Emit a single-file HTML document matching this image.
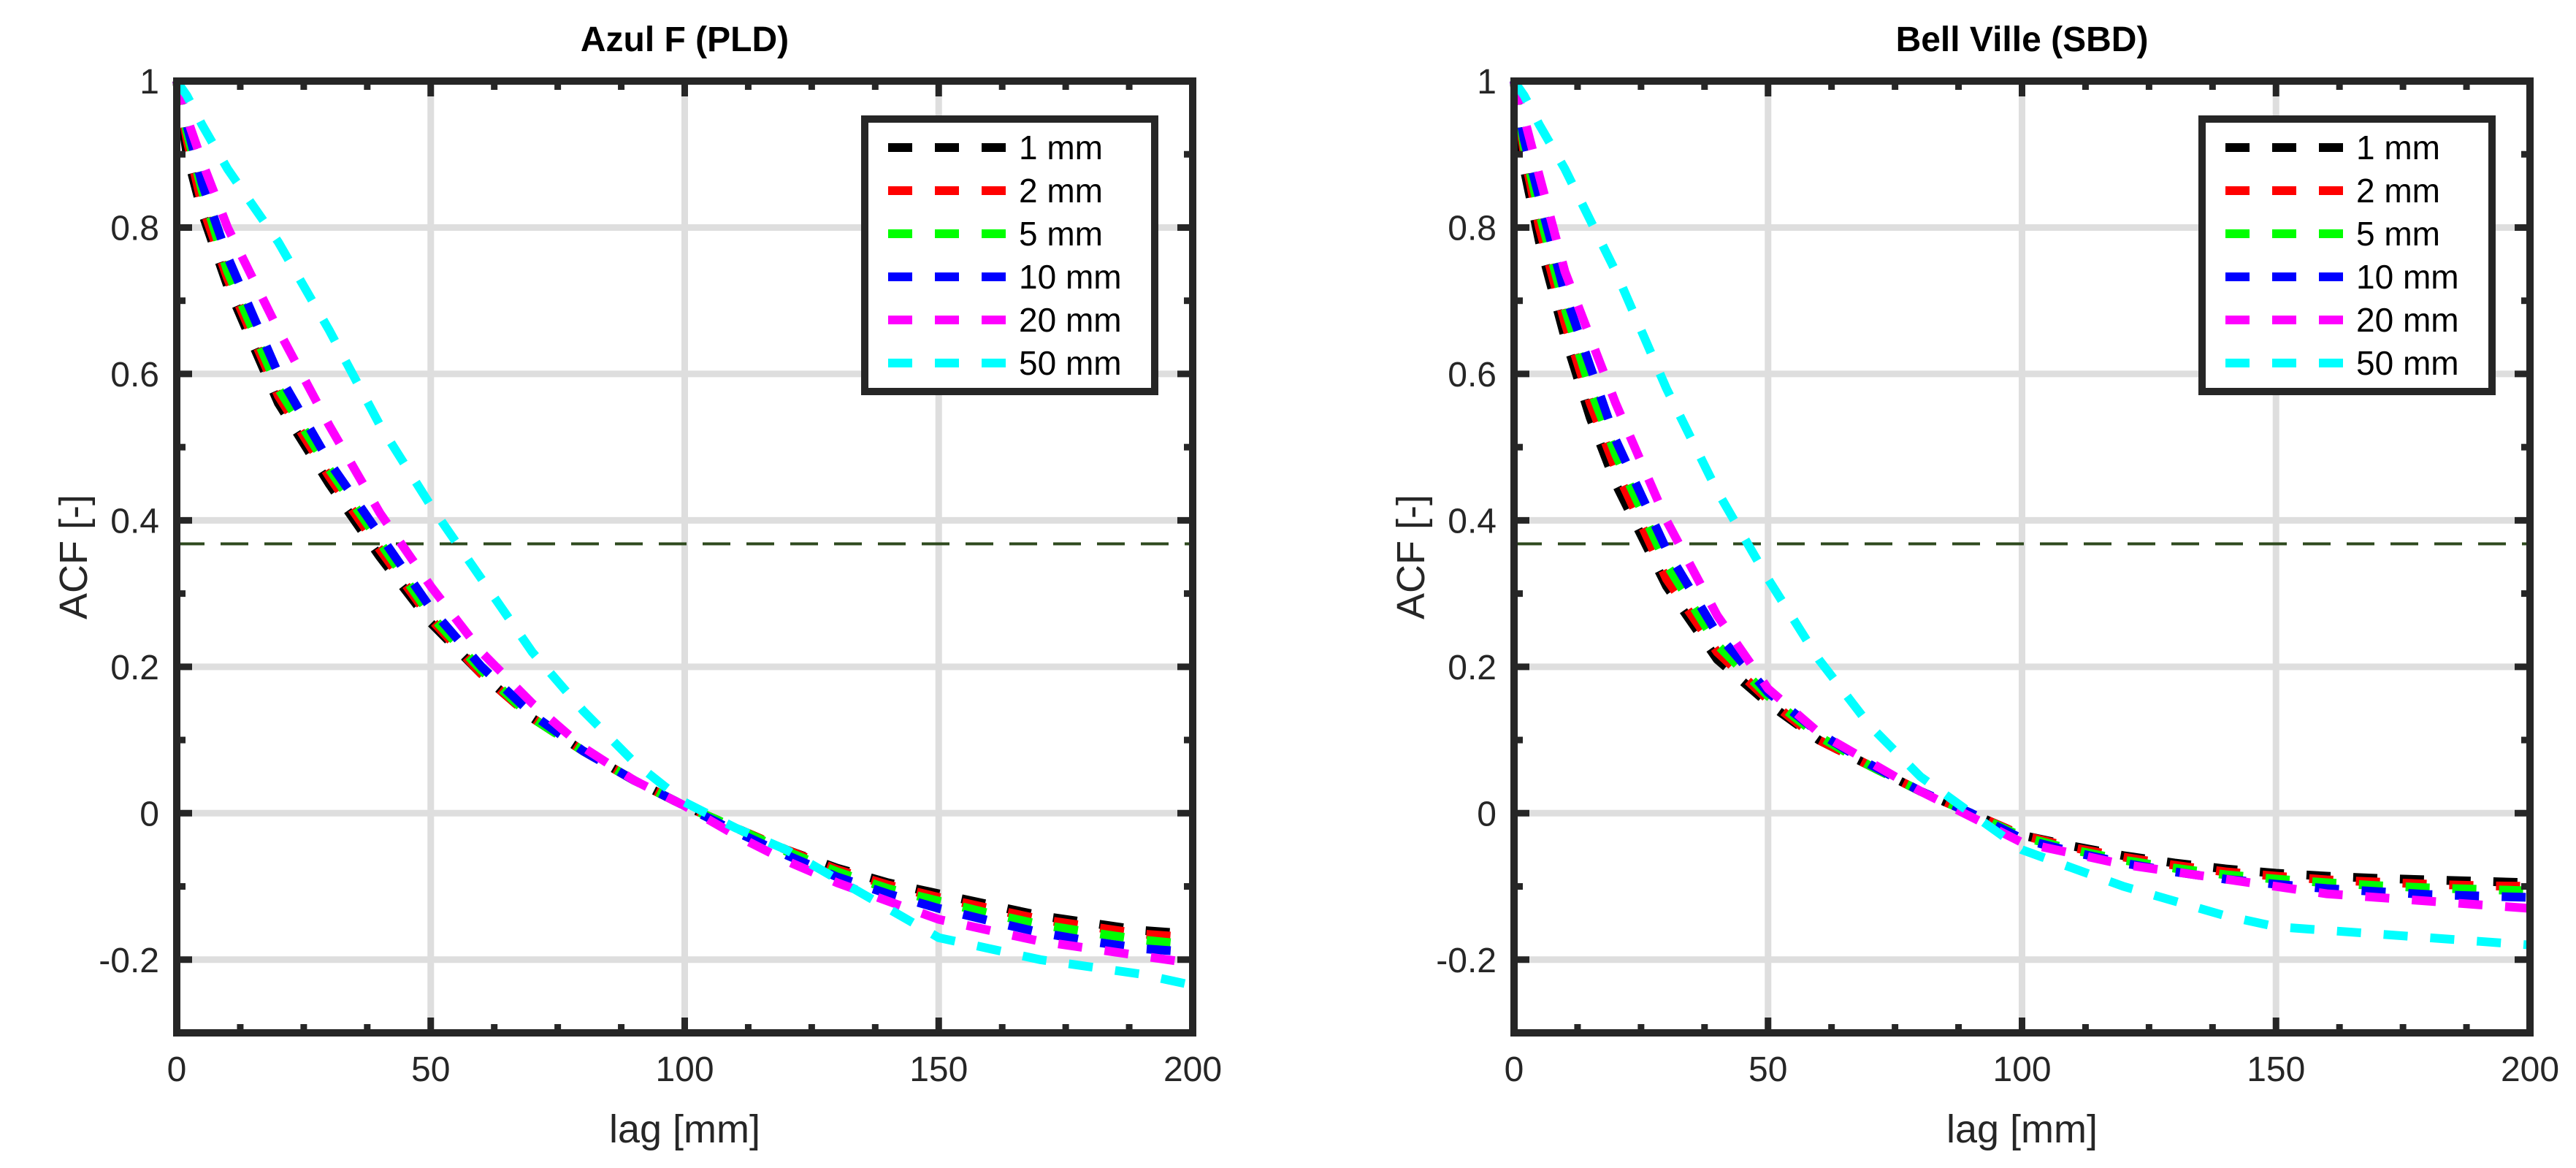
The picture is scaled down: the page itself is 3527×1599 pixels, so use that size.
<!DOCTYPE html>
<html><head><meta charset="utf-8"><style>
html,body{margin:0;padding:0;background:#fff;}
svg{display:block;font-family:"Liberation Sans",sans-serif;}
</style></head><body>
<svg id="fig" width="3527" height="1599" viewBox="0 0 3527 1599" xmlns="http://www.w3.org/2000/svg"></svg>
<script>
const lags = [0,2,5,10,15,20,30,40,50,60,70,80,90,100,110,120,130,140,150,160,170,180,190,200];
const seriesNames = ["1 mm","2 mm","5 mm","10 mm","20 mm","50 mm"];
const seriesColors = ["#000000","#ff0000","#00ff00","#0000ff","#ff00ff","#00ffff"];
const xTicks = [0,50,100,150,200];
const yTicks = [-0.2,0,0.2,0.4,0.6,0.8,1];
const yTickLabels = ["-0.2","0","0.2","0.4","0.6","0.8","1"];
const thresholdValue = 0.3679;
// Azul F (PLD)
const azul1 = [1,0.9,0.82,0.72,0.64,0.56,0.45,0.35,0.26,0.19,0.13,0.085,0.045,0.01,-0.02,-0.05,-0.075,-0.095,-0.11,-0.125,-0.14,-0.15,-0.16,-0.165];
const azul2 = [1,0.92,0.83,0.73,0.65,0.57,0.46,0.36,0.265,0.19,0.13,0.085,0.045,0.01,-0.02,-0.05,-0.077,-0.098,-0.115,-0.13,-0.145,-0.155,-0.165,-0.17];
const azul5 = [1,0.93,0.85,0.74,0.66,0.58,0.47,0.37,0.27,0.195,0.13,0.085,0.045,0.01,-0.02,-0.052,-0.08,-0.103,-0.12,-0.137,-0.152,-0.163,-0.173,-0.18];
const azul10 = [1,0.94,0.86,0.76,0.68,0.6,0.48,0.38,0.28,0.2,0.135,0.085,0.045,0.01,-0.025,-0.057,-0.087,-0.11,-0.13,-0.147,-0.163,-0.175,-0.185,-0.19];
const azul20 = [1,0.95,0.89,0.8,0.73,0.66,0.53,0.41,0.31,0.22,0.15,0.09,0.045,0.01,-0.03,-0.065,-0.095,-0.12,-0.145,-0.16,-0.175,-0.185,-0.195,-0.205];
const azul50 = [1,0.98,0.94,0.88,0.83,0.78,0.66,0.53,0.42,0.32,0.22,0.14,0.07,0.015,-0.02,-0.05,-0.09,-0.13,-0.17,-0.185,-0.2,-0.21,-0.22,-0.235];
// Bell Ville (SBD)
const bell1 = [1,0.88,0.78,0.65,0.54,0.45,0.31,0.21,0.15,0.1,0.065,0.03,0.0,-0.03,-0.045,-0.058,-0.068,-0.076,-0.082,-0.086,-0.089,-0.091,-0.093,-0.095];
const bell2 = [1,0.9,0.8,0.67,0.56,0.47,0.32,0.22,0.155,0.1,0.065,0.03,0.0,-0.03,-0.047,-0.06,-0.071,-0.08,-0.086,-0.091,-0.094,-0.097,-0.099,-0.1];
const bell5 = [1,0.91,0.82,0.69,0.58,0.49,0.34,0.23,0.16,0.105,0.065,0.03,0.0,-0.032,-0.05,-0.064,-0.075,-0.084,-0.09,-0.095,-0.099,-0.102,-0.104,-0.106];
const bell10 = [1,0.92,0.84,0.71,0.61,0.51,0.36,0.245,0.165,0.11,0.067,0.03,0.0,-0.035,-0.053,-0.068,-0.08,-0.09,-0.097,-0.103,-0.107,-0.111,-0.113,-0.115];
const bell20 = [1,0.95,0.87,0.74,0.65,0.56,0.4,0.27,0.17,0.11,0.07,0.03,-0.005,-0.04,-0.055,-0.07,-0.08,-0.09,-0.1,-0.11,-0.115,-0.12,-0.125,-0.13];
const bell50 = [1,0.98,0.94,0.88,0.81,0.74,0.58,0.44,0.32,0.21,0.12,0.05,0.0,-0.05,-0.075,-0.1,-0.12,-0.14,-0.155,-0.16,-0.165,-0.17,-0.175,-0.18];

const NS = "http://www.w3.org/2000/svg";
const svg = document.getElementById("fig");
function mk(tag, parent, attrs){ const e=document.createElementNS(NS,tag); for(const k in attrs) e.setAttribute(k,attrs[k]); parent.appendChild(e); return e; }

const panels = [
  {title:"Azul F (PLD)", left:242, data:[azul1,azul2,azul5,azul10,azul20,azul50], key:"azul"},
  {title:"Bell Ville (SBD)", left:2073, data:[bell1,bell2,bell5,bell10,bell20,bell50], key:"bell"}
];
const W = 1391, TOP = 111, BOT = 1414, YMIN=-0.3, YMAX=1, XMAX=200;
const dark = "#262626";

panels.forEach(p => {
  const g = mk("g", svg, {});
  
  
  const X = v => p.left + v / XMAX * W;
  const Y = v => BOT - (v - YMIN) / (YMAX - YMIN) * (BOT - TOP);
  xTicks.forEach(t => { const l = mk("line", g, {x1:X(t),x2:X(t),y1:TOP,y2:BOT,stroke:"#dedede","stroke-width":9});
      });
  yTicks.forEach(t => { const l = mk("line", g, {x1:p.left,x2:p.left+W,y1:Y(t),y2:Y(t),stroke:"#dedede","stroke-width":9});
      });
  const th = mk("line", g, {x1:p.left,x2:p.left+W,y1:Y(thresholdValue),y2:Y(thresholdValue),stroke:"#2e4a1e","stroke-width":4,"stroke-dasharray":"38 22"});
   
  p.data.forEach((arr, i) => {
    const pts = arr.map((v, j) => X(lags[j]).toFixed(1) + "," + Y(v).toFixed(1)).join(" ");
    const pl = mk("polyline", g, {points:pts, fill:"none", stroke:seriesColors[i], "stroke-width":12, "stroke-dasharray":"33 31"});
    
    
  });
  for (let t = 0; t <= XMAX + 0.01; t += 12.5) {
    const len = (t % 50 === 0) ? 21 : 12;
    mk("line", g, {x1:X(t),x2:X(t),y1:BOT,y2:BOT-len,stroke:dark,"stroke-width":9});
    mk("line", g, {x1:X(t),x2:X(t),y1:TOP,y2:TOP+len,stroke:dark,"stroke-width":9});
  }
  for (let k = -3; k <= 10; k++) {
    const t = k / 10; const len = (k % 2 === 0) ? 21 : 12;
    mk("line", g, {x1:p.left,x2:p.left+len,y1:Y(t),y2:Y(t),stroke:dark,"stroke-width":9});
    mk("line", g, {x1:p.left+W,x2:p.left+W-len,y1:Y(t),y2:Y(t),stroke:dark,"stroke-width":9});
  }
  const box = mk("rect", g, {x:p.left,y:TOP,width:W,height:BOT-TOP,fill:"none",stroke:dark,"stroke-width":10});
   
  xTicks.forEach(t => { const tx = mk("text", g, {x:X(t),y:1480,"text-anchor":"middle","font-size":48,fill:dark}); tx.textContent = t;
      });
  yTicks.forEach((t, i) => { const tx = mk("text", g, {x:p.left-24,y:Y(t)+17,"text-anchor":"end","font-size":48,fill:dark}); tx.textContent = yTickLabels[i];
      });
  const xl = mk("text", g, {x:p.left+W/2,y:1564,"text-anchor":"middle","font-size":54,fill:dark}); xl.textContent = "lag [mm]";
   
  const yl = mk("text", g, {x:0,y:0,"text-anchor":"middle","font-size":54,fill:dark,transform:`translate(${p.left-123},${(TOP+BOT)/2}) rotate(-90)`}); yl.textContent = "ACF [-]";
   
  const tt = mk("text", g, {x:p.left+W/2,y:70,"text-anchor":"middle","font-size":48,"font-weight":"bold",fill:"#000"}); tt.textContent = p.title;
   
  const lg = mk("g", g, {});
   
  const lx = p.left + 942;
  mk("rect", lg, {x:lx,y:163,width:397,height:373,fill:"#fff",stroke:dark,"stroke-width":10});
  seriesNames.forEach((n, i) => {
    const y = 202 + i * 59;
    const e = mk("g", lg, {});
     
    mk("line", e, {x1:lx+32,x2:lx+193,y1:y,y2:y,stroke:seriesColors[i],"stroke-width":12,"stroke-dasharray":"33 31"});
    const t = mk("text", e, {x:lx+211,y:y+16,"font-size":46,fill:"#000"}); t.textContent = n;
  });
});
</script>
</body></html>
